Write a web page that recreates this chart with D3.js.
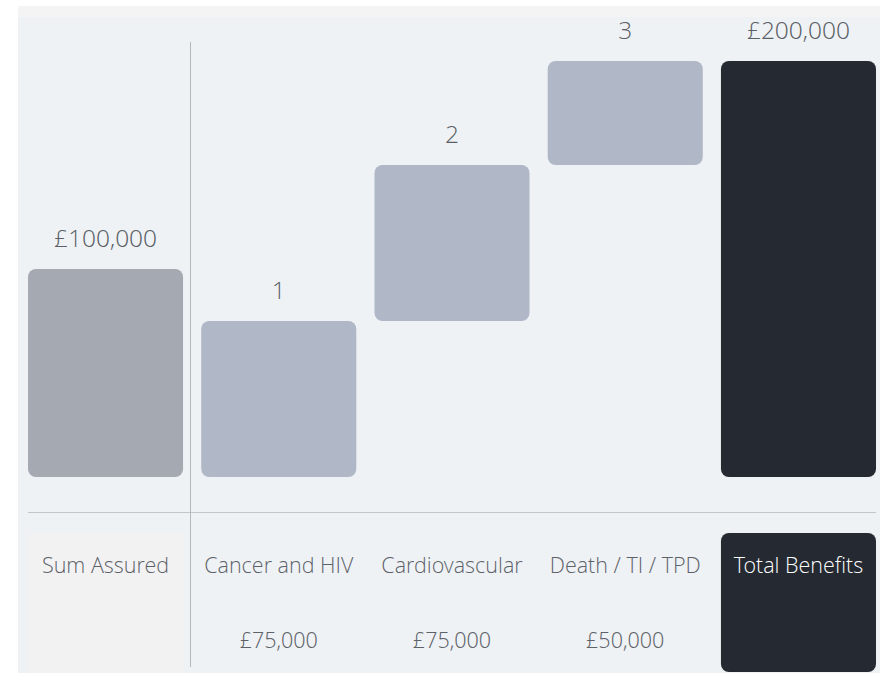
<!DOCTYPE html>
<html>
<head>
<meta charset="utf-8">
<script src="https://cdn.jsdelivr.net/npm/d3@7"></script>
<style>
  body { margin: 0; background: #fff; }
  text { font-family: "Open Sans Light", "Open Sans", sans-serif; }
</style>
</head>
<body>
<div id="chart"></div>
<script>
const categories = ["Sum Assured", "Cancer and HIV", "Cardiovascular", "Death / TI / TPD", "Total Benefits"];
const amounts = [100000, 75000, 75000, 50000, 200000];
const kinds = ["base", "step", "step", "step", "total"];
const topLabels = ["£100,000", "1", "2", "3", "£200,000"];
const valueLabels = ["", "£75,000", "£75,000", "£50,000", ""];

const width = 880,
  height = 673;

// waterfall: steps stack from zero, base and total start at zero
let running = 0;
const bars = categories.map((c, i) => {
  let start = 0;
  if (kinds[i] === "step") {
    start = running;
    running += amounts[i];
  }
  return {name: c, kind: kinds[i], start: start, end: start + amounts[i], top: topLabels[i], value: valueLabels[i]};
});

const x = d3.scaleBand().domain(categories).range([28, 876]).paddingInner(0.105).paddingOuter(0);
const y = d3.scaleLinear().domain([0, 200000]).range([477, 61]);

const fills = {base: "#a4a9b2", step: "#b0b7c6", total: "#242932"};

const svg = d3.select("#chart")
  .append("svg")
  .attr("width", width)
  .attr("height", height);

// panel background
svg.append("rect").attr("x", 18).attr("y", 6).attr("width", 862).attr("height", 667).attr("fill", "#eff2f5");
svg.append("rect").attr("x", 18).attr("y", 6).attr("width", 862).attr("height", 11).attr("fill", "#f4f4f4");

// footer cells
svg.append("rect")
  .attr("x", x("Sum Assured")).attr("y", 533)
  .attr("width", x.bandwidth()).attr("height", 140)
  .attr("fill", "#f2f2f3");
svg.append("rect")
  .attr("x", x("Total Benefits")).attr("y", 533)
  .attr("width", x.bandwidth()).attr("height", 139)
  .attr("rx", 8)
  .attr("fill", fills.total);

// divider lines
svg.append("line")
  .attr("x1", 28).attr("x2", 876).attr("y1", 512.5).attr("y2", 512.5)
  .attr("stroke", "#c2c5c9").attr("stroke-width", 1);
svg.append("line")
  .attr("x1", 190.5).attr("x2", 190.5).attr("y1", 42).attr("y2", 667)
  .attr("stroke", "#b4b7bb").attr("stroke-width", 1);

// bars
svg.append("g")
  .selectAll("rect")
  .data(bars)
  .join("rect")
  .attr("x", d => x(d.name))
  .attr("y", d => y(d.end))
  .attr("width", x.bandwidth())
  .attr("height", d => y(d.start) - y(d.end))
  .attr("rx", 8)
  .attr("fill", d => fills[d.kind]);

// labels above bars
svg.append("g")
  .attr("font-size", 24.5)
  .attr("font-weight", 300)
  .attr("fill", "#5a5f66")
  .attr("text-anchor", "middle")
  .selectAll("text")
  .data(bars)
  .join("text")
  .attr("x", d => x(d.name) + x.bandwidth() / 2)
  .attr("y", d => y(d.end) - 22)
  .text(d => d.top);

// category names
svg.append("g")
  .attr("font-size", 21.5)
  .attr("font-weight", 300)
  .attr("text-anchor", "middle")
  .selectAll("text")
  .data(bars)
  .join("text")
  .attr("x", d => x(d.name) + x.bandwidth() / 2)
  .attr("y", 573)
  .attr("fill", d => d.kind === "total" ? "#ffffff" : "#5d6269")
  .text(d => d.name);

// step values
svg.append("g")
  .attr("font-size", 21.5)
  .attr("font-weight", 300)
  .attr("fill", "#5d6269")
  .attr("text-anchor", "middle")
  .selectAll("text")
  .data(bars.filter(d => d.value))
  .join("text")
  .attr("x", d => x(d.name) + x.bandwidth() / 2)
  .attr("y", 648)
  .text(d => d.value);
</script>
</body>
</html>
